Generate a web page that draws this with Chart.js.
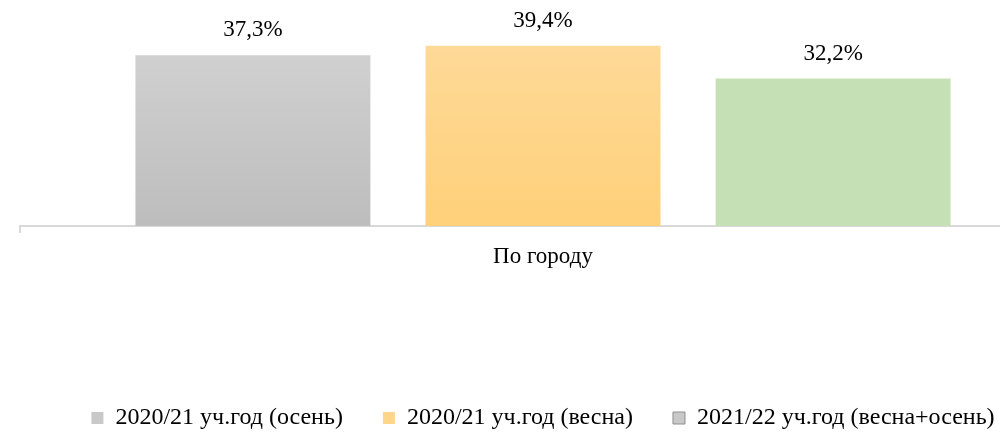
<!DOCTYPE html>
<html>
<head>
<meta charset="utf-8">
<script src="https://cdn.jsdelivr.net/npm/chart.js@4/dist/chart.umd.min.js"></script>
<style>
html,body{margin:0;padding:0;background:#fff;overflow:hidden;width:1000px;height:434px;}
#wrap{position:absolute;left:0;top:0;width:1113px;height:434px;}
</style>
</head>
<body>
<div id="wrap"><canvas id="c" width="1113" height="434"></canvas></div>
<script>
const categories = ['По городу'];
const seriesNames = ['2020/21 уч.год (осень)', '2020/21 уч.год (весна)', '2021/22 уч.год (весна+осень)'];
const autumn2021 = [37.3];
const spring2021 = [39.4];
const both2022 = [32.2];

const FONT = "'Liberation Serif', 'Times New Roman', serif";

function grad(top, bottom) {
  return function(ctx) {
    const ca = ctx.chart.chartArea;
    if (!ca) return bottom;
    const g = ctx.chart.ctx.createLinearGradient(0, ca.top, 0, ca.bottom);
    g.addColorStop(0, top);
    g.addColorStop(1, bottom);
    return g;
  };
}

const legendColors = [
  {fill: '#c9c9c9', stroke: '#c9c9c9', lw: 0},
  {fill: '#fed68a', stroke: '#fed68a', lw: 0},
  {fill: '#c8c8c8', stroke: '#8f8f8f', lw: 1}
];

const labelPlugin = {
  id: 'valueLabels',
  afterDatasetsDraw(chart) {
    const ctx = chart.ctx;
    ctx.save();
    ctx.font = '23px ' + FONT;
    ctx.fillStyle = '#000';
    ctx.textAlign = 'center';
    ctx.textBaseline = 'middle';
    chart.data.datasets.forEach((ds, i) => {
      const meta = chart.getDatasetMeta(i);
      meta.data.forEach((bar, j) => {
        const v = ds.data[j];
        ctx.fillText(v.toFixed(1).replace('.', ',') + '%', bar.x, bar.y - 25);
      });
    });
    ctx.restore();
  }
};

const legendShift = {
  id: 'legendShift',
  afterLayout(chart) {
    const lg = chart.legend;
    if (lg) { lg.top += 8; lg.bottom += 8; }
  }
};

new Chart(document.getElementById('c'), {
  type: 'bar',
  data: {
    labels: categories,
    datasets: [
      {label: seriesNames[0], data: autumn2021, backgroundColor: grad('#d4d4d4', '#bdbdbd')},
      {label: seriesNames[1], data: spring2021, backgroundColor: grad('#fedb9c', '#fed079')},
      {label: seriesNames[2], data: both2022, backgroundColor: '#c5e0b4'}
    ]
  },
  options: {
    responsive: false,
    animation: false,
    events: [],
    layout: {padding: {top: 20, left: 20, right: 47, bottom: 2}},
    datasets: {bar: {categoryPercentage: 0.832, barPercentage: 0.81}},
    scales: {
      y: {display: false, min: 0, max: 45},
      x: {
        afterFit(scale) { scale.height = 132; },
        grid: {display: true, drawOnChartArea: false, tickLength: 7, color: '#d9d9d9', lineWidth: 2},
        border: {display: true, color: '#d9d9d9', width: 2},
        ticks: {color: '#000', font: {family: FONT, size: 23}, padding: 10}
      }
    },
    plugins: {
      tooltip: {enabled: false},
      legend: {
        position: 'bottom',
        labels: {
          color: '#000',
          font: {family: FONT, size: 24},
          boxWidth: 12,
          boxHeight: 12,
          padding: 40,
          generateLabels(chart) {
            return chart.data.datasets.map((ds, i) => ({
              text: ds.label,
              fillStyle: legendColors[i].fill,
              strokeStyle: legendColors[i].stroke,
              lineWidth: legendColors[i].lw,
              datasetIndex: i,
              hidden: false
            }));
          }
        }
      }
    }
  },
  plugins: [labelPlugin, legendShift]
});
</script>
</body>
</html>
